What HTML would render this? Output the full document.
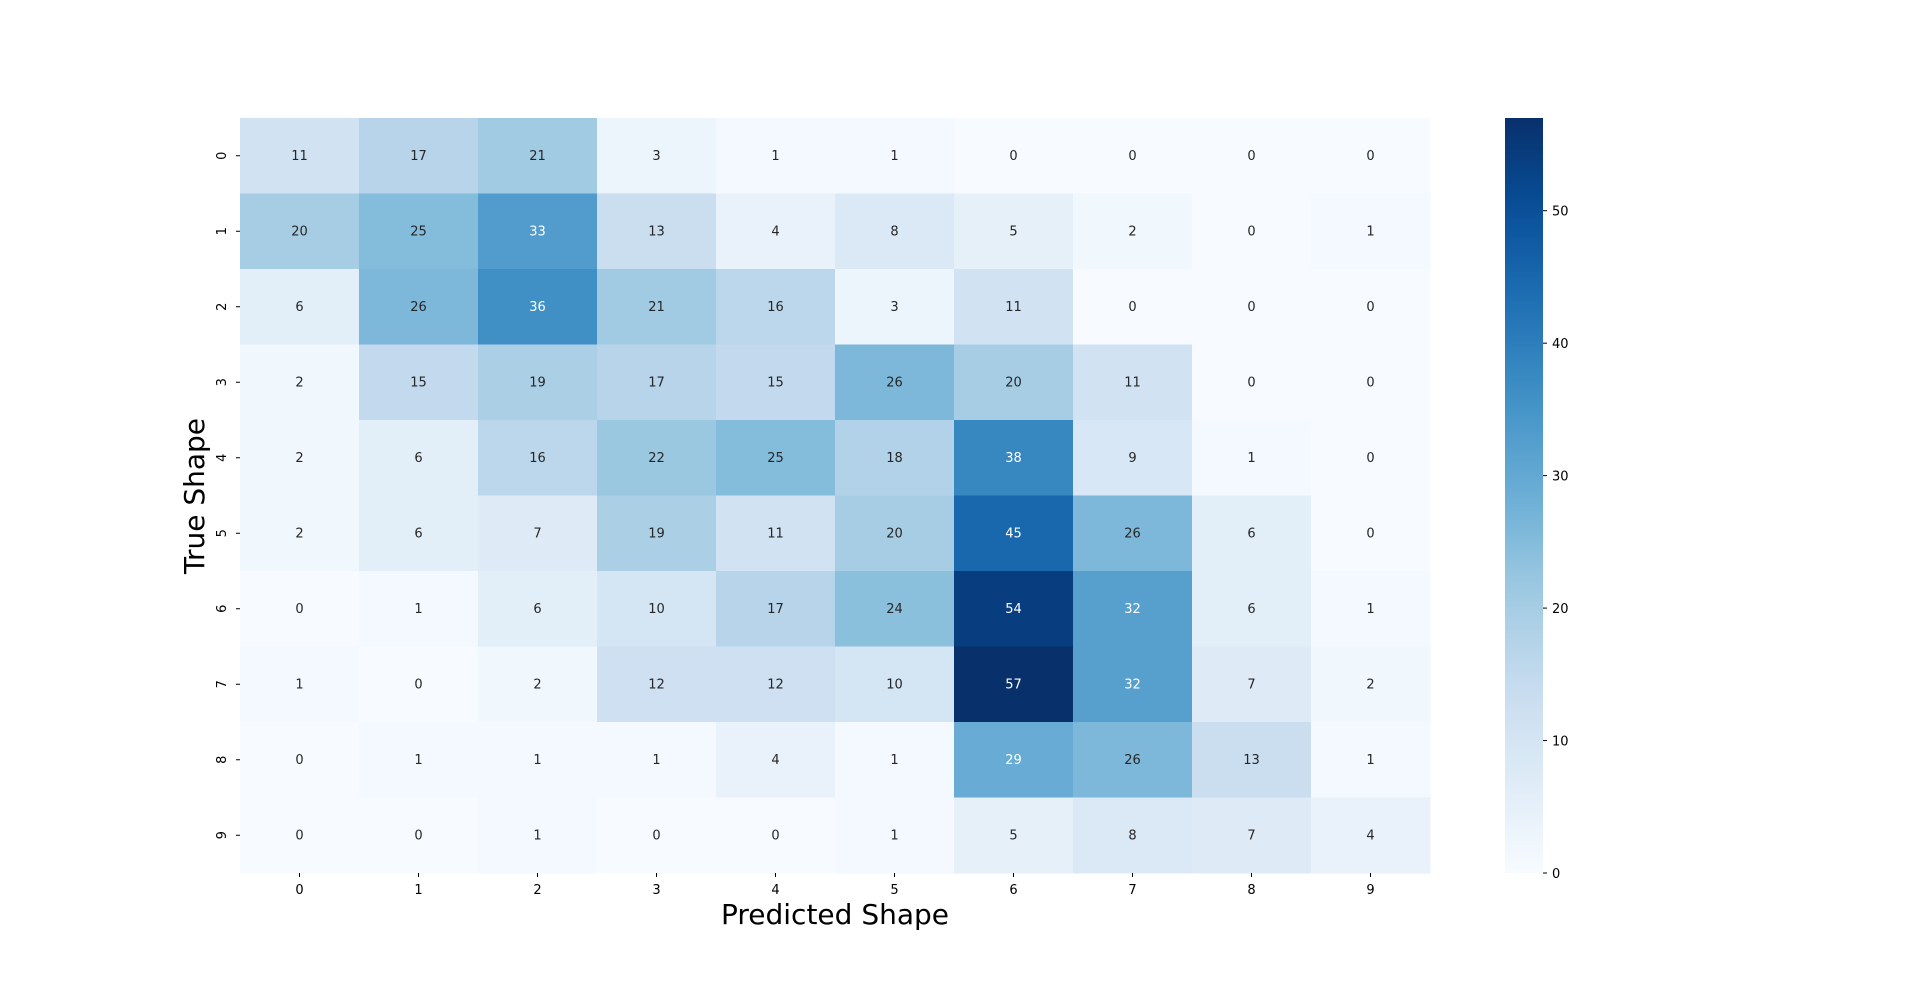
<!DOCTYPE html>
<html><head><meta charset="utf-8">
<style>
html,body{margin:0;padding:0;background:#fff;}
svg{display:block;font-family:"DejaVu Sans","Liberation Sans",sans-serif;}
</style></head>
<body>
<svg id="chart" width="1920" height="981" viewBox="0 0 1920 981" xmlns="http://www.w3.org/2000/svg">
<g id="cells"></g>
<g id="xticks"></g>
<g id="yticks"></g>
<text x="835" y="924" font-size="28" text-anchor="middle" fill="#000">Predicted Shape</text>
<text transform="translate(204,496) rotate(-90)" font-size="28" text-anchor="middle" fill="#000">True Shape</text>
<defs><linearGradient id="cbgrad" x1="0" y1="1" x2="0" y2="0"></linearGradient></defs>
<rect x="1505" y="118" width="38" height="755" fill="url(#cbgrad)"/>
<g id="cbticks"></g>
</svg>
<script>
const xCategories = ["0","1","2","3","4","5","6","7","8","9"];
const yCategories = ["0","1","2","3","4","5","6","7","8","9"];
const matrixValues = [
[11,17,21,3,1,1,0,0,0,0],
[20,25,33,13,4,8,5,2,0,1],
[6,26,36,21,16,3,11,0,0,0],
[2,15,19,17,15,26,20,11,0,0],
[2,6,16,22,25,18,38,9,1,0],
[2,6,7,19,11,20,45,26,6,0],
[0,1,6,10,17,24,54,32,6,1],
[1,0,2,12,12,10,57,32,7,2],
[0,1,1,1,4,1,29,26,13,1],
[0,0,1,0,0,1,5,8,7,4]
];
const colorbarTicks = [0,10,20,30,40,50];
const vmin = 0, vmax = 57;

const NS = "http://www.w3.org/2000/svg";
const plotLeft = 240, plotTop = 118, plotW = 1190, plotH = 755;
const cw = plotW / xCategories.length, ch = plotH / yCategories.length;
const xPos = i => plotLeft + i * cw;
const yPos = j => plotTop + j * ch;
const cbY = v => 873 - (v - vmin) / (vmax - vmin) * 755;

const blues = [[247,251,255],[222,235,247],[198,219,239],[158,202,225],[107,174,214],[66,146,198],[33,113,181],[8,81,156],[8,48,107]];
function cmap(t){
  t = Math.max(0, Math.min(1, t));
  const p = t * (blues.length - 1), i = Math.min(Math.floor(p), blues.length - 2), f = p - i;
  return blues[i].map((a, k) => Math.round(a + (blues[i+1][k] - a) * f));
}
const rgb = c => `rgb(${c[0]},${c[1]},${c[2]})`;
function mk(tag, attrs, parent){ const e = document.createElementNS(NS, tag); for (const k in attrs) e.setAttribute(k, attrs[k]); parent.appendChild(e); return e; }

const cells = document.getElementById('cells');
matrixValues.forEach((row, j) => row.forEach((v, i) => {
  const tn = (v - vmin) / (vmax - vmin);
  const c = cmap(tn);
  const r = mk('rect', {x: xPos(i), y: yPos(j), width: cw + 0.5, height: ch + 0.5, fill: rgb(c)}, cells);
  
  
  const t = mk('text', {x: xPos(i) + cw/2, y: yPos(j) + ch/2 + 4, 'font-size': 13, 'text-anchor': 'middle', fill: tn > 0.48 ? '#ffffff' : '#262626'}, cells);
  
  
  t.textContent = v;
}));

const xt = document.getElementById('xticks');
xCategories.forEach((lab, i) => {
  const x = xPos(i) + cw/2;
  mk('line', {x1: x, x2: x, y1: 873, y2: 877, stroke: '#000', 'stroke-width': 1}, xt);
  const t = mk('text', {x: x, y: 894, 'font-size': 13, 'text-anchor': 'middle', fill: '#000'}, xt);
  
  
  t.textContent = lab;
});
const yt = document.getElementById('yticks');
yCategories.forEach((lab, j) => {
  const y = yPos(j) + ch/2;
  mk('line', {x1: 236, x2: 240, y1: y, y2: y, stroke: '#000', 'stroke-width': 1}, yt);
  const t = mk('text', {transform: `translate(226,${y}) rotate(-90)`, 'font-size': 13, 'text-anchor': 'middle', fill: '#000'}, yt);
  
  
  t.textContent = lab;
});

const grad = document.getElementById('cbgrad');
for (let k = 0; k <= 20; k++) mk('stop', {offset: (k/20), 'stop-color': rgb(cmap(k/20))}, grad);
const cbt = document.getElementById('cbticks');
colorbarTicks.forEach(v => {
  const y = cbY(v);
  mk('line', {x1: 1543, x2: 1547, y1: y, y2: y, stroke: '#000', 'stroke-width': 1}, cbt);
  const t = mk('text', {x: 1552, y: y + 5, 'font-size': 13, fill: '#000'}, cbt);
  
  
  t.textContent = v;
});
</script>
</body></html>
